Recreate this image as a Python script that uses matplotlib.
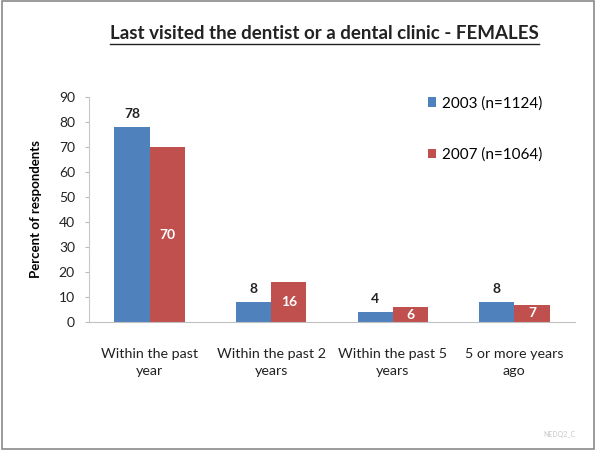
import matplotlib
matplotlib.use("Agg")
import matplotlib.pyplot as plt
import numpy as np
from matplotlib.patches import Rectangle

categories = ["Within the past\nyear", "Within the past 2\nyears", "Within the past 5\nyears", "5 or more years\nago"]
series_names = ["2003 (n=1124)", "2007 (n=1064)"]
values_2003 = [78, 8, 4, 8]
values_2007 = [70, 16, 6, 7]
yticks = [0, 10, 20, 30, 40, 50, 60, 70, 80, 90]

blue = "#4F81BD"
red = "#C0504D"
font = "Lato"

fig = plt.figure(figsize=(5.96, 4.5), dpi=100)
fig.patch.set_facecolor("white")
fig.add_artist(Rectangle((0.003, 0.003), 0.994, 0.994, transform=fig.transFigure,
                         fill=False, edgecolor="#8a8a8a", linewidth=1.2))

ax = fig.add_axes([0.149, 0.2844, 0.816, 0.50])
x = np.arange(len(categories))
w = 0.29
b1 = ax.bar(x - w/2, values_2003, w, color=blue, label=series_names[0])
b2 = ax.bar(x + w/2, values_2007, w, color=red, label=series_names[1])

for rect, v in zip(b1, values_2003):
    ax.text(rect.get_x() + rect.get_width()/2, v + 5.2, str(v), ha="center", va="center",
            fontsize=10, fontweight="bold", color="#222222", family=font)
for rect, v in zip(b2, values_2007):
    ax.text(rect.get_x() + rect.get_width()/2, v/2, str(v), ha="center", va="center",
            fontsize=10, fontweight="bold", color="white", family=font)

ax.set_xlim(-0.5, 3.5)
ax.set_ylim(0, 90)
ax.set_yticks(yticks)
ax.set_yticklabels([str(t) for t in yticks], fontsize=10, family=font, color="#222222")
ax.set_xticks(x)
ax.set_xticklabels(categories, fontsize=10.3, family=font, color="#222222", linespacing=1.5)
ax.tick_params(axis="x", length=0, pad=19)
ax.tick_params(axis="y", length=3, color="#bbbbbb", pad=7)
for s in ["top", "right"]:
    ax.spines[s].set_visible(False)
ax.spines["left"].set_color("#c8c8c8")
ax.spines["bottom"].set_color("#c0c0c0")
ax.set_ylabel("Percent of respondents", fontsize=9.5, fontweight="bold", family=font, labelpad=12)

leg = fig.legend(handles=[b1, b2], labels=series_names, loc="upper left",
                 bbox_to_anchor=(428/596, 1 - 96/450), frameon=False, borderpad=0,
                 borderaxespad=0, prop={"family": font, "size": 11}, labelspacing=2.45,
                 handlelength=0.55, handleheight=0.55, handletextpad=0.35)

t = fig.text(0.545, 0.925, "Last visited the dentist or a dental clinic - FEMALES", ha="center",
             va="center", fontsize=13.5, fontweight="bold", family=font, color="#222222")
fig.canvas.draw()
bb = t.get_window_extent(renderer=fig.canvas.get_renderer()).transformed(fig.transFigure.inverted())
fig.add_artist(plt.Line2D([bb.x0, bb.x1], [bb.y0 - 0.004, bb.y0 - 0.004], transform=fig.transFigure,
                          color="#222222", linewidth=1.0))

fig.text(0.965, 0.035, "NEDQ2_C", ha="right", va="center", fontsize=5, color="#c8c8c8", family=font)

fig.savefig("out.png", dpi=100, facecolor="white")
